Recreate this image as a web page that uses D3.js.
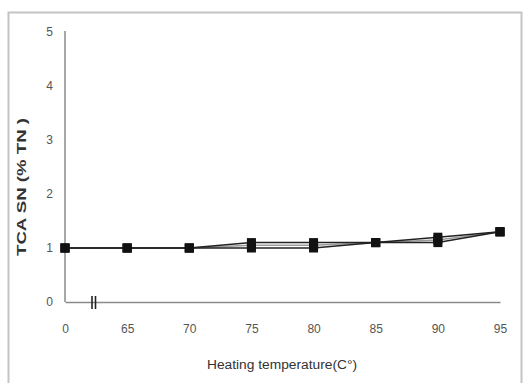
<!DOCTYPE html>
<html>
<head>
<meta charset="utf-8">
<script src="https://cdn.jsdelivr.net/npm/d3@7"></script>
<style>
  body { margin: 0; background: #fff; }
  svg { display: block; font-family: "Liberation Sans", Arial, sans-serif; }
</style>
</head>
<body>
<div id="chart"></div>
<script>
const temps = ['0', '65', '70', '75', '80', '85', '90', '95'];
const seriesA = [1, 1, 1, 1.1, 1.1, 1.1, 1.2, 1.3];
const seriesB = [1, 1, 1, 1.0, 1.0, 1.1, 1.1, 1.3];
const seriesC = [1, 1, 1, 1.05, 1.05, 1.1, 1.15, 1.3];
const yTicks = [0, 1, 2, 3, 4, 5];

const width = 524;
const height = 383;
const margin = { top: 32, right: 24, bottom: 81, left: 65 };

const svg = d3.select('#chart').append('svg')
  .attr('width', width).attr('height', height);

// outer frame
svg.append('rect').attr('x', 8.5).attr('y', 12.5).attr('width', 513).attr('height', 372)
  .attr('fill', 'none').attr('stroke', '#c4c4c4').attr('stroke-width', 2);

const x = d3.scalePoint().domain(temps).range([margin.left, width - margin.right]);
const y = d3.scaleLinear().domain([0, 5]).range([height - margin.bottom, margin.top]);

// y axis
const yAxis = svg.append('g').attr('transform', `translate(${margin.left},0)`)
  .call(d3.axisLeft(y).tickValues(yTicks).tickSize(0).tickPadding(12).tickFormat(d3.format('d')));
yAxis.select('.domain').attr('stroke', '#8a8a8a').attr('stroke-width', 1.5).attr('d', `M0,${y(0)}V${y(5) - 1}`);
yAxis.selectAll('text').attr('font-size', 12).attr('fill', '#555');

// x axis
const xAxis = svg.append('g').attr('transform', `translate(0,${y(0)})`)
  .call(d3.axisBottom(x).tickSize(0).tickPadding(22));
xAxis.select('.domain').attr('stroke', '#8a8a8a').attr('stroke-width', 1.5);
xAxis.selectAll('text').attr('font-size', 12).attr('fill', '#555');

// axis break
[92, 95.5].forEach((bx) => {
  svg.append('line').attr('x1', bx).attr('x2', bx).attr('y1', y(0) - 6).attr('y2', y(0) + 7)
    .attr('stroke', '#222').attr('stroke-width', 1.6);
});

// titles
svg.append('text').attr('x', 282).attr('y', 369).attr('text-anchor', 'middle')
  .attr('font-size', 12).attr('fill', '#333')
  .attr('textLength', 150).attr('lengthAdjust', 'spacingAndGlyphs')
  .text('Heating temperature(C°)');
svg.append('text').attr('transform', 'translate(26,187) rotate(-90)')
  .attr('text-anchor', 'middle').attr('font-size', 13).attr('font-weight', 600).attr('fill', '#333')
  .attr('textLength', 138).attr('lengthAdjust', 'spacingAndGlyphs')
  .text('TCA SN (% TN )');

const line = d3.line().x((d, i) => x(temps[i])).y((d) => y(d));

const drawSeries = (vals, color, w) => {
  svg.append('path').datum(vals).attr('d', line).attr('fill', 'none')
    .attr('stroke', color).attr('stroke-width', w);
  svg.selectAll(null).data(vals).enter().append('rect')
    .attr('x', (d, i) => x(temps[i]) - 4.5).attr('y', (d) => y(d) - 4.5)
    .attr('width', 9).attr('height', 9).attr('fill', '#111');
};

drawSeries(seriesC, '#9a9a9a', 1.5);
drawSeries(seriesB, '#222', 1.5);
drawSeries(seriesA, '#222', 1.5);
</script>
</body>
</html>
